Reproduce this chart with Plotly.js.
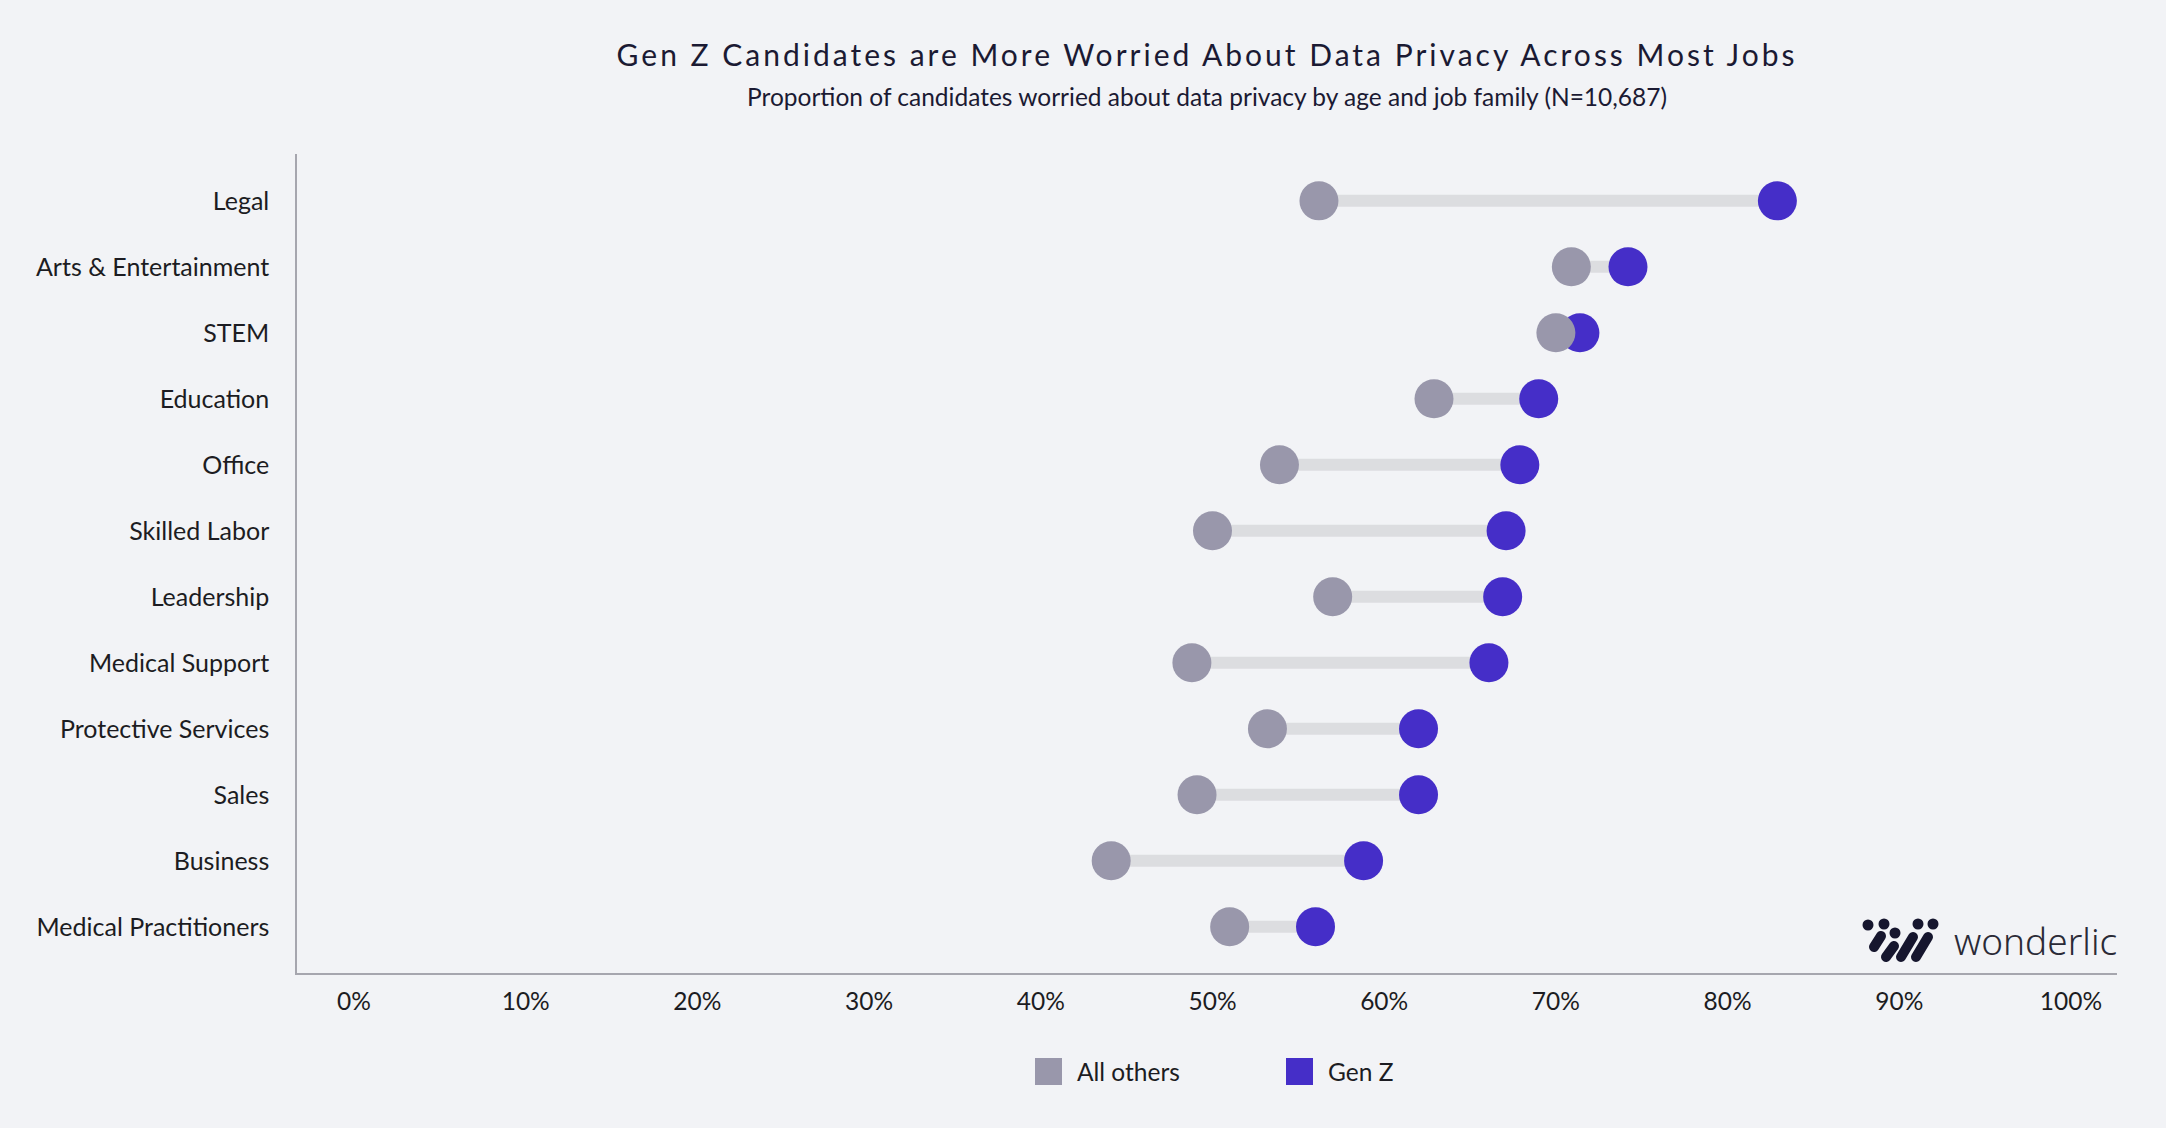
<!DOCTYPE html>
<html>
<head>
<meta charset="utf-8">
<script src="https://cdn.plot.ly/plotly-3.0.1.min.js"></script>
<style>
  html, body { margin: 0; padding: 0; background: #f2f3f6; }
  #chart { width: 2166px; height: 1128px; }
  /* tracked-out headline, as in the original */
  #chart .gtitle { letter-spacing: 3px; }
  #chart .shapelayer path { stroke-linecap: round; }
</style>
</head>
<body>
<div id="chart"></div>
<script>
  // Job families, top row first.
  const CATEGORIES = [
    "Legal", "Arts & Entertainment", "STEM", "Education", "Office",
    "Skilled Labor", "Leadership", "Medical Support", "Protective Services",
    "Sales", "Business", "Medical Practitioners"
  ];
  // Share worried about data privacy.
  const ALL_OTHERS = [0.562, 0.709, 0.700, 0.629, 0.539, 0.500, 0.570, 0.488, 0.532, 0.491, 0.441, 0.510];
  const GEN_Z      = [0.829, 0.742, 0.714, 0.690, 0.679, 0.671, 0.669, 0.661, 0.620, 0.620, 0.588, 0.560];
  const SERIES_NAMES = ["All others", "Gen Z"];
  const TICK_VALUES = [0, 0.1, 0.2, 0.3, 0.4, 0.5, 0.6, 0.7, 0.8, 0.9, 1.0];
  const TICK_LABELS = ["0%", "10%", "20%", "30%", "40%", "50%", "60%", "70%", "80%", "90%", "100%"];

  const GRAY = "#9997ab";
  const PURPLE = "#452ec8";
  const STEM_LINE = "#dcdde0";
  const INK = "#1c1c22";
  const BG = "#f2f3f6";
  const FONT = "Lato, 'Noto Sans', sans-serif";

  // plot box in page pixels, used to place the logo and the legend
  const W = 2166, H = 1128;
  const M = { l: 297, r: 49, t: 154, b: 155 };
  const PW = W - M.l - M.r, PH = H - M.t - M.b;
  const px = (x) => (x - M.l) / PW;
  const py = (y) => (H - M.b - y) / PH;

  // one connector per row, broken with nulls
  const stemX = [], stemY = [];
  CATEGORIES.forEach(function (cat, i) {
    stemX.push(ALL_OTHERS[i], GEN_Z[i], null);
    stemY.push(cat, cat, null);
  });

  const traces = [
    {
      x: stemX, y: stemY, type: "scatter", mode: "lines",
      line: { color: STEM_LINE, width: 12 },
      hoverinfo: "skip", showlegend: false
    },
    {
      x: GEN_Z, y: CATEGORIES, type: "scatter", mode: "markers",
      name: SERIES_NAMES[1],
      marker: { color: PURPLE, size: 39, line: { width: 0 } },
      hovertemplate: "%{y}<br>Gen Z: %{x:.0%}<extra></extra>",
      showlegend: false
    },
    {
      x: ALL_OTHERS, y: CATEGORIES, type: "scatter", mode: "markers",
      name: SERIES_NAMES[0],
      marker: { color: GRAY, size: 39, line: { width: 0 } },
      hovertemplate: "%{y}<br>All others: %{x:.0%}<extra></extra>",
      showlegend: false
    }
  ];

  // legend drawn by hand so the swatches can be as big as the original's
  const legendColors = [GRAY, PURPLE];
  const legendLeft = [1035, 1286];
  const shapes = [];
  const annotations = [
    {
      text: "Proportion of candidates worried about data privacy by age and job family (N=10,687)",
      xref: "paper", yref: "paper", x: 0.5, y: py(96), xanchor: "center", yanchor: "middle",
      showarrow: false, font: { family: FONT, size: 24.5, color: "#1b1a33" }
    },
    {
      text: "wonderlic",
      xref: "paper", yref: "paper", x: px(2119), y: py(940), xanchor: "right", yanchor: "middle",
      showarrow: false, font: { family: "'Noto Sans', sans-serif", size: 37, color: "#2a2a36", weight: 300 }
    }
  ];
  SERIES_NAMES.forEach(function (name, i) {
    const x0 = legendLeft[i];
    shapes.push({
      type: "rect", xref: "paper", yref: "paper",
      x0: px(x0), x1: px(x0 + 27), y0: py(1058), y1: py(1085),
      fillcolor: legendColors[i], line: { width: 0 }
    });
    annotations.push({
      text: name, xref: "paper", yref: "paper", x: px(x0 + 40), y: py(1071),
      xanchor: "left", yanchor: "middle", showarrow: false,
      font: { family: FONT, size: 24.5, color: INK }
    });
  });

  // wonderlic mark: dots and slanted pills
  const LOGO = "#16162e";
  [[1868, 925], [1884, 924], [1895, 933], [1918, 924], [1933, 924]].forEach(function (d) {
    shapes.push({
      type: "circle", xref: "paper", yref: "paper",
      x0: px(d[0] - 5.5), x1: px(d[0] + 5.5), y0: py(d[1] + 5.5), y1: py(d[1] - 5.5),
      fillcolor: LOGO, line: { width: 0 }
    });
  });
  [[1881, 936, 1874, 947], [1894, 946, 1886, 957], [1913, 937, 1901, 957], [1928, 937, 1916, 957]].forEach(function (s) {
    shapes.push({
      type: "line", xref: "paper", yref: "paper",
      x0: px(s[0]), y0: py(s[1]), x1: px(s[2]), y1: py(s[3]),
      line: { color: LOGO, width: 10 }
    });
  });

  const layout = {
    width: W, height: H,
    margin: M,
    paper_bgcolor: BG, plot_bgcolor: BG,
    font: { family: FONT, color: INK, size: 24 },
    showlegend: false,
    title: {
      text: "Gen Z Candidates are More Worried About Data Privacy Across Most Jobs",
      font: { family: FONT, size: 30, color: "#1b1a33" },
      xref: "paper", x: 0.5, xanchor: "center",
      yref: "container", y: 1 - 55 / H, yanchor: "middle"
    },
    xaxis: {
      range: [-0.0332, 1.0268],
      tickvals: TICK_VALUES, ticktext: TICK_LABELS,
      showgrid: false, zeroline: false,
      showline: true, linecolor: "#a6a6ae", linewidth: 1.5,
      ticks: "", ticklabelstandoff: 6,
      tickfont: { family: FONT, size: 24.5, color: INK },
      fixedrange: true
    },
    yaxis: {
      type: "category",
      categoryorder: "array", categoryarray: CATEGORIES.slice().reverse(),
      range: [-0.70, 11.71],
      showgrid: false, zeroline: false,
      showline: true, linecolor: "#a6a6ae", linewidth: 1.5,
      ticks: "", ticklabelstandoff: 21,
      tickfont: { family: FONT, size: 25, color: INK },
      fixedrange: true
    },
    shapes: shapes,
    annotations: annotations
  };

  Plotly.newPlot("chart", traces, layout, { displayModeBar: false });
</script>
</body>
</html>
